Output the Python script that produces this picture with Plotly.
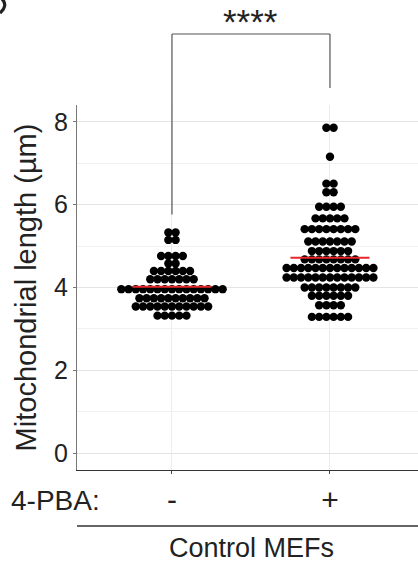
import plotly.graph_objects as go

# ---- data ----
categories = ["-", "+"]
ctrl_bins = [5.33, 5.15, 4.76, 4.58, 4.40, 4.20, 3.96, 3.74, 3.54, 3.32]
ctrl_counts = [2, 2, 4, 2, 6, 7, 15, 10, 11, 5]
pba_bins = [7.86, 7.16, 6.51, 6.30, 5.95, 5.67, 5.41, 5.11, 4.88, 4.68,
            4.47, 4.24, 4.00, 3.80, 3.57, 3.29]
pba_counts = [2, 1, 2, 2, 4, 5, 8, 7, 6, 8, 13, 13, 8, 6, 4, 6]
y_ticks = [0, 2, 4, 6, 8]
signif_label = "****"
y_title = "Mitochondrial length (µm)"
row_label = "4-PBA:"
group_label = "Control MEFs"

FONT = "Liberation Sans, Arial, sans-serif"
DX = 0.0458  # horizontal dot spacing in category units

fig = go.Figure()

groups = [(ctrl_bins, ctrl_counts), (pba_bins, pba_counts)]
for gi, (bins, counts) in enumerate(groups):
    xs, ys = [], []
    for b, n in zip(bins, counts):
        for i in range(n):
            xs.append(gi + (i - (n - 1) / 2) * DX)
            ys.append(b)
    fig.add_trace(go.Scatter(x=xs, y=ys, mode="markers",
                             marker=dict(size=8.4, color="black", line=dict(width=0)),
                             showlegend=False, hoverinfo="y"))

for gi, (bins, counts) in enumerate(groups):
    mean = sum(b * c for b, c in zip(bins, counts)) / sum(counts)
    fig.add_trace(go.Scatter(x=[gi - 0.25, gi + 0.25], y=[mean, mean], mode="lines",
                             line=dict(color="#e8262a", width=2),
                             showlegend=False, hoverinfo="skip"))

# significance bracket
bc = "#555555"
fig.add_shape(type="line", xref="x", yref="paper", x0=0, x1=1, y0=1.1945, y1=1.1945,
              line=dict(color=bc, width=1.2))
fig.add_shape(type="line", xref="x", yref="paper", x0=0, x1=0, y0=1.1945, y1=0.70,
              line=dict(color=bc, width=1.2))
fig.add_shape(type="line", xref="x", yref="paper", x0=1, x1=1, y0=1.1945, y1=1.0466,
              line=dict(color=bc, width=1.2))
fig.add_annotation(x=0.5, xref="x", y=1.230, yref="paper", text=signif_label,
                   showarrow=False, font=dict(family=FONT, size=35, color="#222"),
                   yanchor="middle", xanchor="center")

# lower labels
fig.add_annotation(x=0.0733, xref="paper", y=-0.0822, yref="paper", text=row_label,
                   showarrow=False, font=dict(family=FONT, size=28, color="#222"),
                   xanchor="right", yanchor="middle")
fig.add_shape(type="line", xref="paper", yref="paper", x0=0, x1=1.02, y0=-0.1534, y1=-0.1534,
              line=dict(color="#333", width=1.3))
fig.add_annotation(x=0.513, xref="paper", y=-0.2137, yref="paper", text=group_label,
                   showarrow=False, font=dict(family=FONT, size=27, color="#222"),
                   xanchor="center", yanchor="middle")


# cut-off fragment of the panel letter at the top-left corner (drawn as a stroke)
def px(x):
    return (x - 77) / 341


def py(y):
    return (470 - y) / 365


fig.add_shape(type="path", xref="paper", yref="paper",
              path=f"M {px(1)} {py(-2)} Q {px(9)} {py(5)} {px(0)} {py(13)}",
              line=dict(color="#222", width=3.2))

fig.update_layout(
    width=418, height=564,
    margin=dict(l=77, r=0, t=105, b=94),
    plot_bgcolor="white", paper_bgcolor="white",
    font=dict(family=FONT, color="#222"),
    xaxis=dict(range=[-0.601, 1.557], tickvals=[0, 1], ticktext=categories,
               ticks="outside", ticklen=3, tickcolor="#444",
               showline=True, linecolor="#333", linewidth=1.3,
               showgrid=True, gridcolor="#ececec", zeroline=False,
               tickfont=dict(family=FONT, size=30, color="#222")),
    yaxis=dict(range=[-0.41, 8.41], tickvals=y_ticks,
               ticks="outside", ticklen=3, tickcolor="#777",
               showline=True, linecolor="#777", linewidth=1.2,
               showgrid=True, gridcolor="#e4e4e4", zeroline=False,
               minor=dict(dtick=1, showgrid=True, gridcolor="#f1f1f1", ticks=""),
               tickfont=dict(family=FONT, size=25, color="#222"),
               title=dict(text=y_title, font=dict(family=FONT, size=29, color="#222"),
                          standoff=8)),
)

fig.write_html("out.html")
